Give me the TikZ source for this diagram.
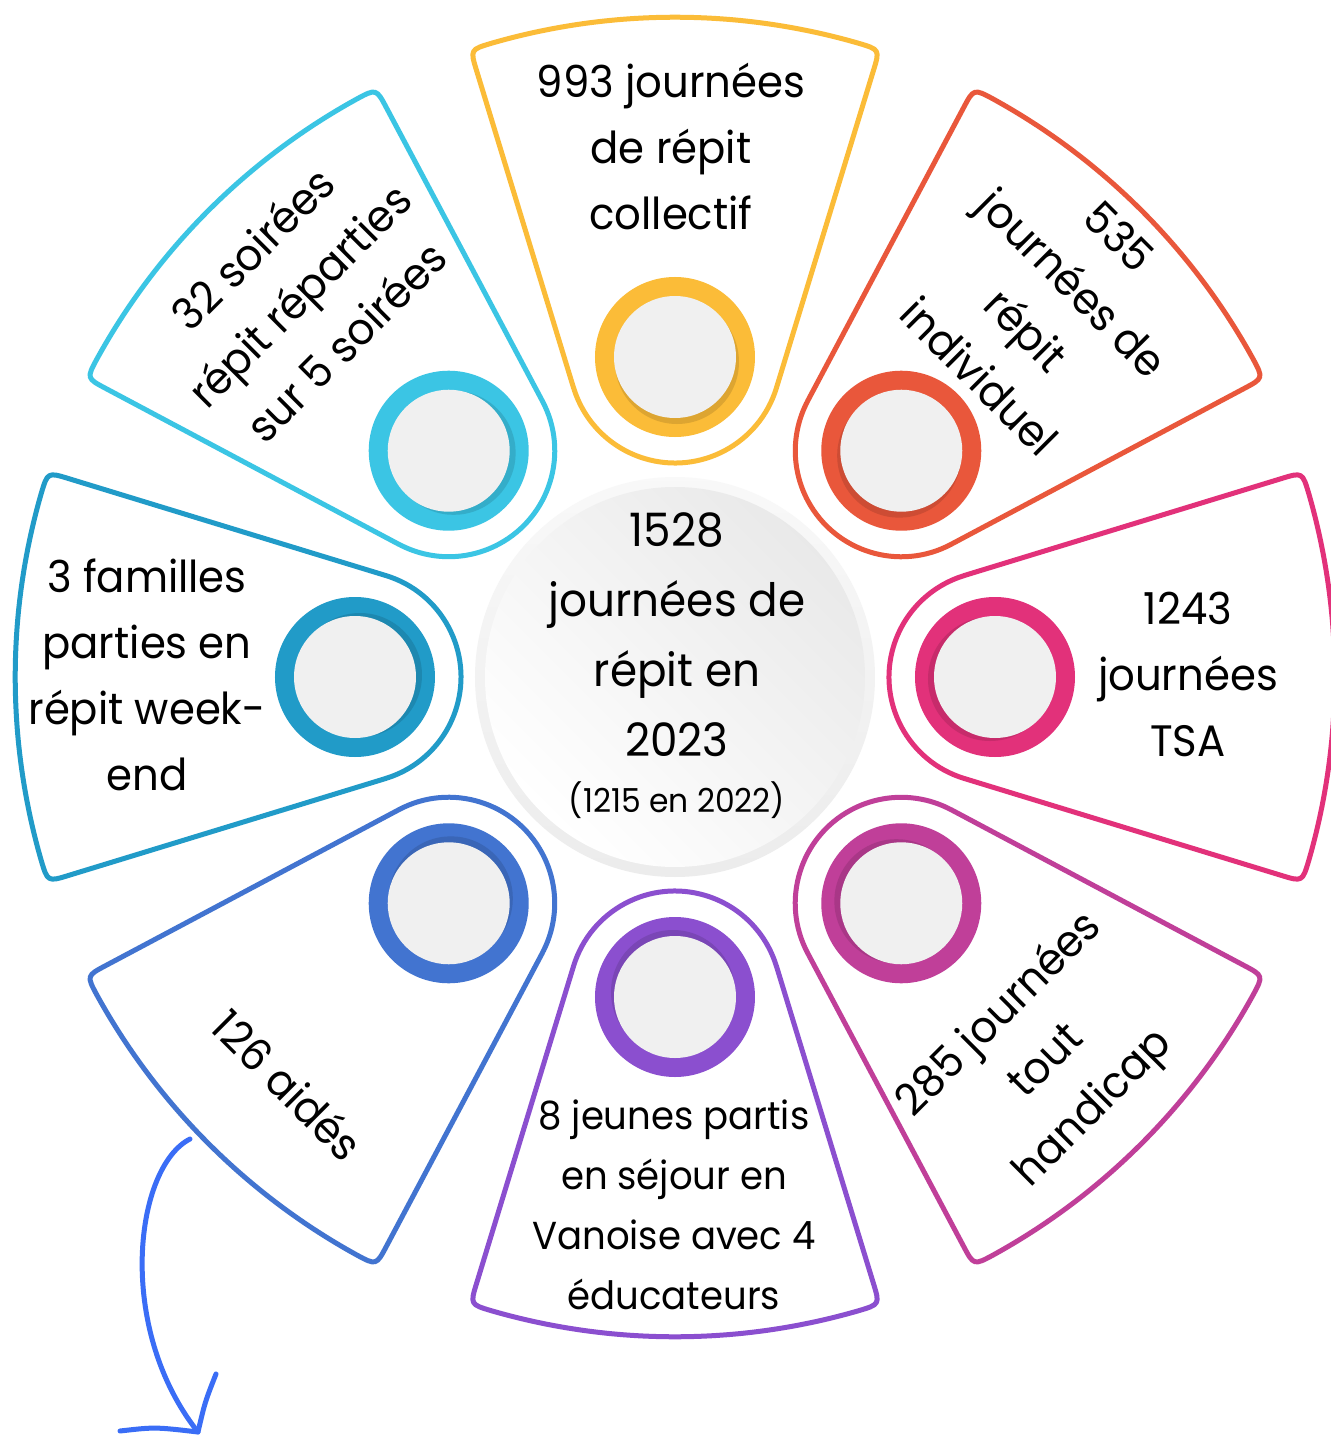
\documentclass[tikz,border=0pt]{standalone}
\usepackage{fontspec}
\setmainfont{Poppins}[FakeStretch=0.95]
\definecolor{cYellow}{HTML}{FBBC38}
\definecolor{cOrange}{HTML}{E9573B}
\definecolor{cPink}{HTML}{E2317A}
\definecolor{cMagenta}{HTML}{C03F99}
\definecolor{cPurple}{HTML}{8B4FCF}
\definecolor{cBlue}{HTML}{4274D0}
\definecolor{cTeal}{HTML}{219BC8}
\definecolor{cCyan}{HTML}{3BC5E4}
\definecolor{cArrow}{HTML}{3A6DF6}
\definecolor{ringin}{HTML}{F0F0F0}
\newcommand\petalshape[2]{%
  \begin{scope}[rotate=#1-90]
    \draw[petalline,draw=#2] (-101.4,289) -- (-198.3,606.0)
      .. controls (-204.9,627.4) .. (-183.0,633.9)
      arc[start angle=106.1,end angle=73.9,radius=660]
      .. controls (204.9,627.4) .. (198.3,606.0)
      -- (101.4,289)
      arc[start angle=-17,end angle=-163,radius=106] -- cycle;
    \fill[#2] (0,320) circle[radius=80];
    \fill[#2!88!black] (2,315) circle[radius=62];
    \fill[ringin] (0,320) circle[radius=61];
  \end{scope}}
\begin{document}
\begin{tikzpicture}[x=1pt,y=1pt,
  petalline/.style={line width=5pt,line join=round},
  txt/.style={align=center,inner sep=0pt,text=black,font=\fontsize{44}{66}\selectfont},
  arrowline/.style={draw=cArrow,line width=5pt,line cap=round,line join=round}]
\useasboundingbox (-675,-759) rectangle (656,677);
\fill[white] (-675,-759) rectangle (656,677);
% petals
\petalshape{90}{cYellow}
\petalshape{45}{cOrange}
\petalshape{0}{cPink}
\petalshape{-45}{cMagenta}
\petalshape{-90}{cPurple}
\petalshape{-135}{cBlue}
\petalshape{180}{cTeal}
\petalshape{135}{cCyan}
% centre
\shade[top color=gray!5,bottom color=gray!15] (0,0) circle[radius=200];
\shade[shading=axis,top color=gray!17,bottom color=white,shading angle=-45] (0,0) circle[radius=190];
\node[txt,font=\fontsize{46}{70}\selectfont] (ctr) at (2,42) {1528\\journées de\\répit en\\2023};
\node[inner sep=0pt,anchor=base,font=\fontsize{33}{40}\selectfont] (ctrsub) at (2,-135) {(1215 en 2022)};
% texts
\node[txt] (tTop) at (-4,531) {993 journées\\de répit\\collectif};
\node[txt,rotate=-45] (tTR) at (374.5,370.5) {535\\journées de\\répit\\individuel};
\node[txt] (tR) at (513,2.5) {1243\\journées\\TSA};
\node[txt,rotate=45] (tBR) at (372,-385) {285 journées\\tout\\handicap};
\node[txt,font=\fontsize{39}{60}\selectfont] (tB) at (-1,-528) {8 jeunes partis\\en séjour en\\Vanoise avec 4\\éducateurs};
\node[txt,rotate=-45] (tBL) at (-387,-408) {126 aidés};
\node[txt] (tL) at (-528,2.5) {3 familles\\parties en\\répit week-\\end};
\node[txt,rotate=45] (tTL) at (-376,382) {32 soirées\\répit réparties\\sur 5 soirées};
% arrow
\coordinate (as) at (-485,-462);
\coordinate (atip) at (-477,-755);
\coordinate (aleft) at (-555,-754);
\coordinate (aright) at (-459,-697);
\draw[arrowline] (as) .. controls (-540,-490) and (-560,-650) .. (atip);
\draw[arrowline] (aleft) .. controls (-520,-750) .. (atip) .. controls (-470,-725) .. (aright);
\end{tikzpicture}
\end{document}
